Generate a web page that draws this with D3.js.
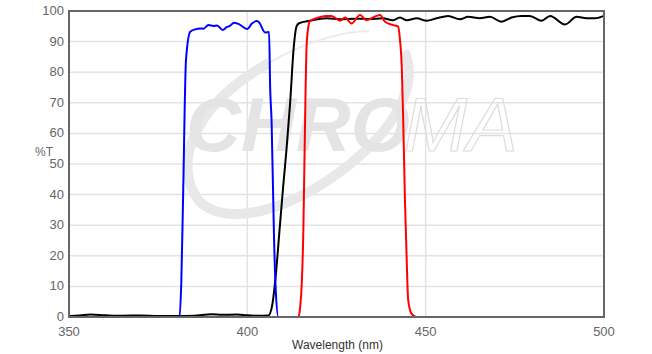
<!DOCTYPE html>
<html lang="en">
<head>
  <meta charset="utf-8">
  <title>%T vs Wavelength</title>
  <script src="https://d3js.org/d3.v7.min.js"></script>
  <style>
    body { margin: 0; background: #fff; }
    #chart text { font-family: "Liberation Sans", Arial, sans-serif; fill: #666; }
  </style>
</head>
<body>
  <div id="chart"></div>
  <script>
    // wavelengths (nm) and %T
    var blueWl = [350, 370, 380, 381, 381.5, 382, 382.8, 384, 385.4, 386.8, 387.7, 389.1, 390.5, 391.5, 393.1, 394.2, 395.1, 396.3, 397.5, 400, 401.2, 402.6, 403.2, 405, 406.1, 406.4, 406.8, 407.5, 408, 408.7, 420, 450, 500];
    var blueT  = [0, 0, 0, 0, 12, 40, 84, 93.2, 94, 94.3, 94.2, 95.4, 95.1, 95.3, 93.8, 94.7, 95.1, 96.2, 95.8, 94.1, 95.8, 96.7, 96.4, 93, 93.1, 75, 64, 25, 8, 0, 0, 0, 0];

    var blackWl = [350, 353, 356, 360, 365, 370, 375, 380, 385, 390, 393, 397, 400, 403, 405.9, 407, 408, 409, 410, 411, 412, 413, 413.8, 414.5, 417.6, 422.2, 426, 430, 434, 438, 440.8, 442.8, 444.7, 447.5, 450.3, 453, 456.3, 459.6, 461.9, 465.2, 468, 471.3, 474.1, 476.9, 479.2, 482.5, 484.9, 489.1, 492.3, 495.1, 497.4, 500];
    var blackT  = [0.3, 0.5, 0.8, 0.6, 0.4, 0.5, 0.3, 0.3, 0.4, 0.9, 0.7, 0.8, 0.6, 0.4, 0.5, 4, 14, 28, 42, 55, 70, 88, 95, 96, 96.8, 97.6, 97.3, 97.5, 97.4, 97.6, 97, 97.9, 97, 97.6, 96.8, 97.6, 98.4, 97.3, 98.1, 97.6, 98.1, 96.5, 97.9, 98.4, 98.4, 96.8, 98.4, 95.6, 98.1, 97.6, 97.6, 98.4];

    var redWl = [350, 380, 414.3, 414.8, 415.3, 415.7, 416, 416.3, 416.6, 417, 417.6, 418.5, 420.3, 422.2, 423.6, 426, 427.4, 429.2, 431.6, 433.4, 436.2, 437.2, 438.6, 440.9, 442.3, 442.8, 443.3, 443.7, 444.2, 444.6, 445.1, 446, 447.4, 470, 500];
    var redT  = [0, 0, 0, 3, 12, 28, 50, 72, 88, 94, 96.8, 97.3, 98, 98.4, 98.4, 96.8, 97.9, 95.9, 98.7, 97, 98.4, 98.7, 96.5, 95.4, 94.9, 90.5, 81.8, 64.4, 38, 21.9, 5.5, 1.2, 0, 0, 0];

    var xTicks = [350, 400, 450, 500];
    var yTicks = [0, 10, 20, 30, 40, 50, 60, 70, 80, 90, 100];

    var larguraSVG = 652, alturaSVG = 354;
    var margin = {top: 11, right: 48, bottom: 37, left: 69};
    var larguraVis = larguraSVG - margin.left - margin.right,
        alturaVis = alturaSVG - margin.top - margin.bottom;

    var svg = d3.select('#chart').append('svg')
        .attr('width', larguraSVG)
        .attr('height', alturaSVG);
    var grafico = svg.append('g')
        .attr('transform', 'translate(' + margin.left + ',' + margin.top + ')');

    var x = d3.scaleLinear().domain([350, 500]).range([0, larguraVis]);
    var y = d3.scaleLinear().domain([0, 100]).range([alturaVis, 0]);

    // grid
    grafico.append('g').selectAll('line')
      .data(yTicks.slice(1, -1)).enter().append('line')
        .attr('x1', 0).attr('x2', larguraVis)
        .attr('y1', d => y(d)).attr('y2', d => y(d))
        .attr('stroke', '#e3e3e3').attr('stroke-width', 1.5);
    grafico.append('g').selectAll('line')
      .data(xTicks.slice(1, -1)).enter().append('line')
        .attr('x1', d => x(d)).attr('x2', d => x(d))
        .attr('y1', 0).attr('y2', alturaVis)
        .attr('stroke', '#e3e3e3').attr('stroke-width', 1.5);

    // watermark
    var wm = grafico.append('g');
    wm.append('path')
      .attr('d', 'M 200 52 C 130 90, 100 150, 130 190 C 165 225, 260 185, 315 120 C 340 88, 345 60, 335 40')
      .attr('fill', 'none').attr('stroke', '#e8e8e8').attr('stroke-width', 10);
    wm.append('path')
      .attr('d', 'M 200 52 C 240 28, 280 20, 300 20')
      .attr('fill', 'none').attr('stroke', '#ececec').attr('stroke-width', 2);
    var marca = wm.append('text')
      .attr('x', 117).attr('y', 140)
      .attr('font-size', 76).attr('font-style', 'italic');
    marca.append('tspan')
      .attr('font-weight', 'bold')
      .style('fill', '#e4e4e4')
      .text('CHRO');
    marca.append('tspan')
      .attr('dx', -6)
      .style('fill', 'none').style('stroke', '#dcdcdc').attr('stroke-width', 1.2)
      .text('MA');

    // series
    var linha = d3.line()
      .x(d => x(d[0]))
      .y(d => y(d[1]))
      .curve(d3.curveMonotoneX);

    var series = [
      {wl: blackWl, t: blackT, cor: '#000000'},
      {wl: blueWl, t: blueT, cor: '#0000ff'},
      {wl: redWl, t: redT, cor: '#ff0000'}
    ];
    series.forEach(function(s) {
      grafico.append('path')
        .datum(s.wl.map((w, i) => [w, s.t[i]]))
        .attr('d', linha)
        .attr('fill', 'none')
        .attr('stroke', s.cor)
        .attr('stroke-width', 2);
    });

    // frame
    grafico.append('rect')
      .attr('x', 0).attr('y', 0)
      .attr('width', larguraVis).attr('height', alturaVis)
      .attr('fill', 'none').attr('stroke', '#666').attr('stroke-width', 2);

    // tick labels
    grafico.append('g').selectAll('text')
      .data(yTicks).enter().append('text')
        .attr('x', -5).attr('y', d => y(d) + 4)
        .attr('text-anchor', 'end')
        .attr('font-size', 13)
        .text(d => d);
    grafico.append('g').selectAll('text')
      .data(xTicks).enter().append('text')
        .attr('x', d => x(d)).attr('y', alturaVis + 19)
        .attr('text-anchor', 'middle')
        .attr('font-size', 13)
        .text(d => d);

    grafico.append('text')
      .attr('x', -34).attr('y', 145)
      .attr('font-size', 12)
      .text('%T');
    grafico.append('text')
      .attr('x', larguraVis / 2 + 1).attr('y', alturaVis + 32)
      .attr('text-anchor', 'middle')
      .attr('font-size', 12)
      .style('fill', '#333')
      .text('Wavelength (nm)');
  </script>
</body>
</html>
